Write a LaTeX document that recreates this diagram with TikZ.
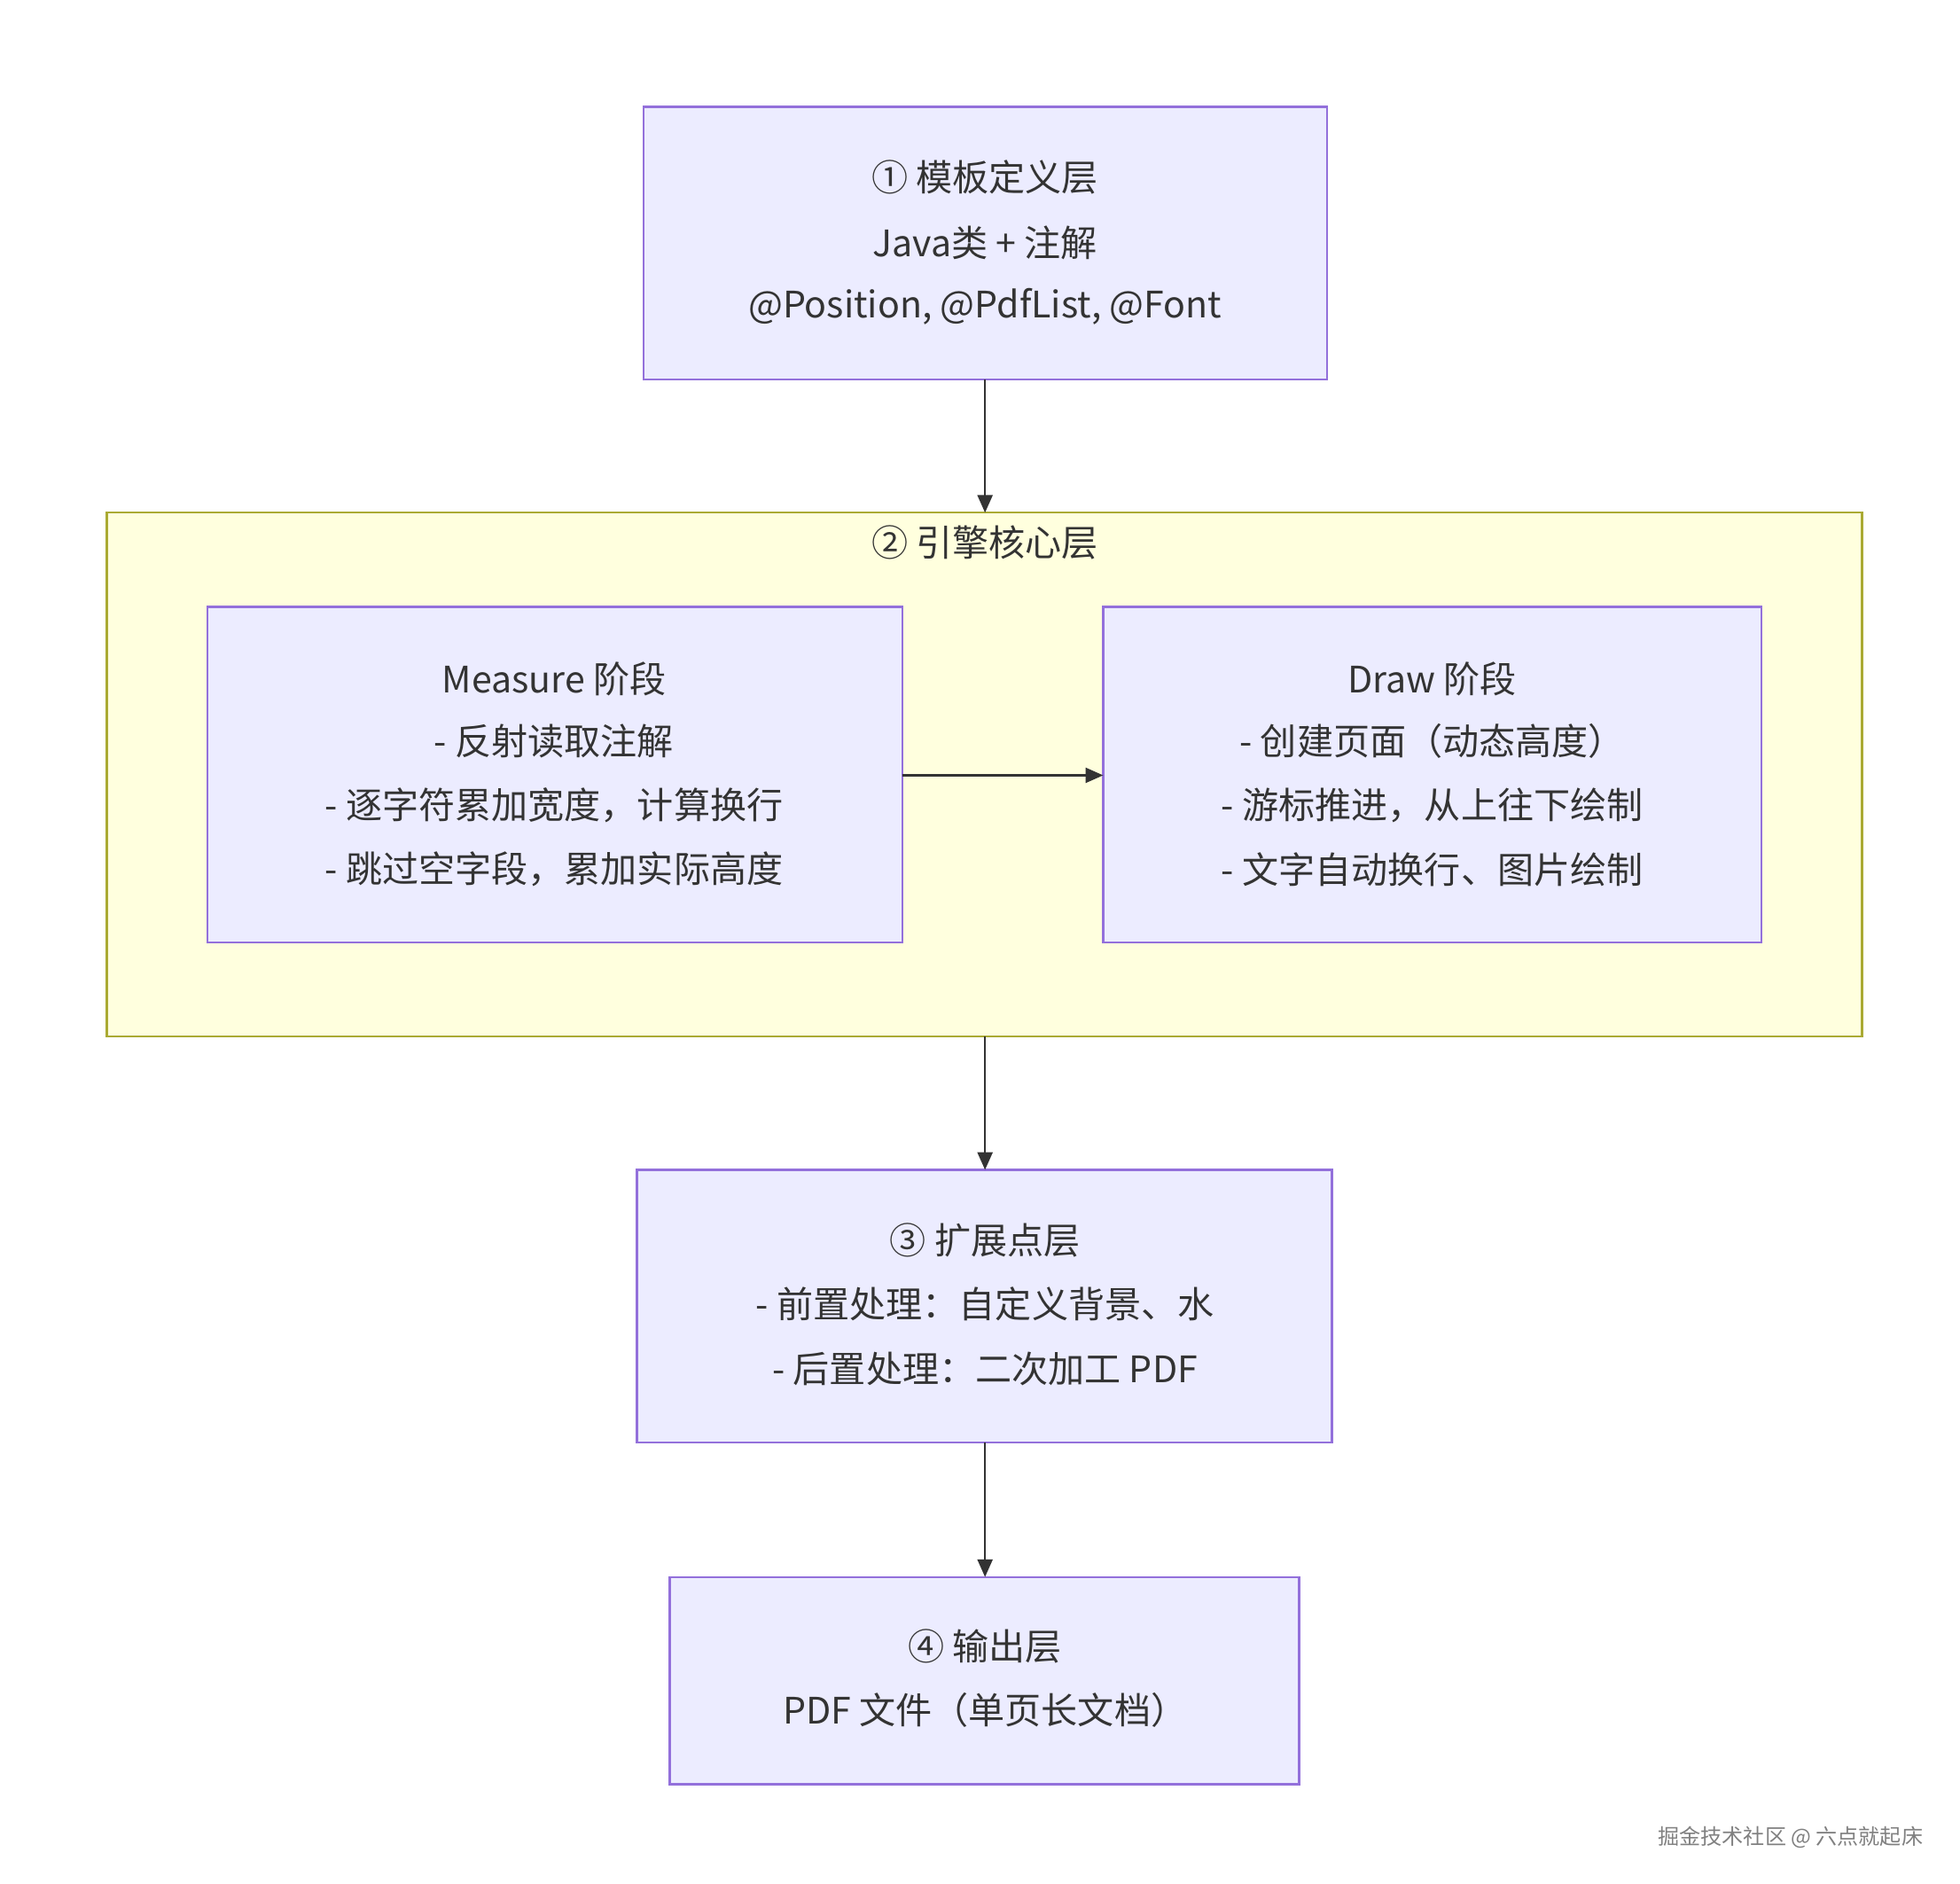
\documentclass[tikz,border=0pt]{standalone}
\usepackage{fontspec}
\setmainfont{Noto Sans CJK SC}
\usetikzlibrary{arrows.meta}
\definecolor{nodefill}{HTML}{ECECFF}
\definecolor{nodeline}{HTML}{9370DB}
\definecolor{clfill}{HTML}{FFFFDE}
\definecolor{clline}{HTML}{AAAA33}
\definecolor{edge}{HTML}{333333}
\begin{document}
\begin{tikzpicture}[x=1pt,y=-1pt,
  box/.style={draw=nodeline,fill=nodefill,line width=1.6pt},
  txt/.style={font=\fontsize{29}{29}\selectfont,text=edge,anchor=center},
  arr/.style={draw=edge,line width=1.6pt,-{Triangle[length=14pt,width=12pt]}}]
\useasboundingbox (0,0) rectangle (1560,1499);
% layer 1
\draw[box] (512,85) rectangle (1056,302);
\node[txt] (l1a) at (784,141) {① 模板定义层};
\node[txt] (l1b) at (784,193) {Java类 + 注解};
\node[txt] (l1c) at (784,244) {@Position, @PdfList, @Font};
\coordinate (b1s) at (784,302);
% cluster
\draw[draw=clline,fill=clfill,line width=1.6pt] (85,408) rectangle (1482,825);
\coordinate (cln) at (784,408);
\coordinate (cls) at (784,825);
\node[txt] (clt) at (784,432) {② 引擎核心层};
% measure
\draw[box] (165,483) rectangle (718,750);
\coordinate (me) at (718,617);
\node[txt] (m1) at (441,540) {Measure 阶段};
\node[txt] (m2) at (441,590) {- 反射读取注解};
\node[txt] (m3) at (441,641) {- 逐字符累加宽度，计算换行};
\node[txt] (m4) at (441,692) {- 跳过空字段，累加实际高度};
% draw
\draw[box] (878,483) rectangle (1402,750);
\coordinate (dw) at (878,617);
\node[txt] (d1) at (1140,540) {Draw 阶段};
\node[txt] (d2) at (1140,590) {- 创建页面（动态高度）};
\node[txt] (d3) at (1140,641) {- 游标推进，从上往下绘制};
\node[txt] (d4) at (1140,692) {- 文字自动换行、图片绘制};
% layer 3
\draw[box] (507,931) rectangle (1060,1148);
\coordinate (b3n) at (784,931);
\coordinate (b3s) at (784,1148);
\node[txt] (e1) at (784,987) {③ 扩展点层};
\node[txt] (e2) at (784,1038) {- 前置处理：自定义背景、水};
\node[txt] (e3) at (784,1089) {- 后置处理：二次加工 PDF};
% layer 4
\draw[box] (533,1255) rectangle (1034,1420);
\coordinate (b4n) at (784,1255);
\node[txt] (o1) at (784,1310) {④ 输出层};
\node[txt] (o2) at (784,1361) {PDF 文件（单页长文档）};
% arrows
\draw[arr] (b1s) -- (cln);
\draw[arr] (me) -- (dw);
\draw[arr] (cls) -- (b3n);
\draw[arr] (b3s) -- (b4n);
% watermark
\node[font=\fontsize{17}{17}\selectfont,text=gray,anchor=east] (wm) at (1534,1462) {掘金技术社区 @ 六点就起床};
\end{tikzpicture}
\end{document}
